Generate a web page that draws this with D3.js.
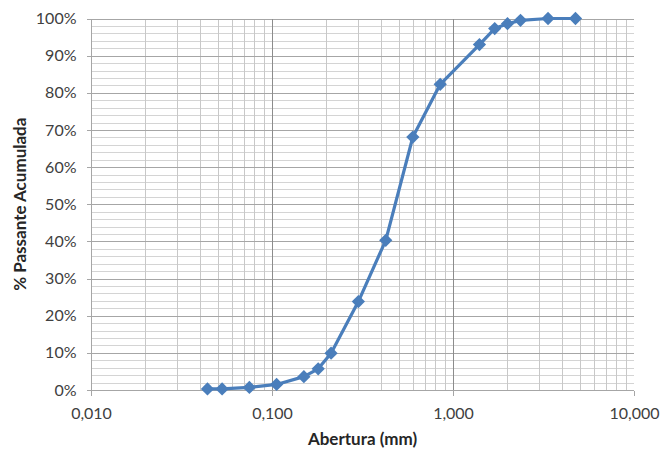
<!DOCTYPE html>
<html>
<head>
<meta charset="utf-8">
<script src="https://cdn.jsdelivr.net/npm/d3@7"></script>
<style>
  body { margin: 0; background: #fff; }
  text { font-family: Lato, "Open Sans", sans-serif; fill: #404040; }
</style>
</head>
<body>
<div id="chart"></div>
<script>
// sieve openings (mm) and cumulative passing (%)
const abertura = [0.044, 0.053, 0.075, 0.106, 0.150, 0.180, 0.212, 0.300, 0.425, 0.600, 0.850, 1.40, 1.70, 2.00, 2.36, 3.35, 4.75];
const passante = [0.3, 0.3, 0.7, 1.5, 3.6, 5.7, 9.9, 23.8, 40.3, 68.1, 82.3, 93.0, 97.3, 98.6, 99.5, 100, 100];

const xTicks = [0.01, 0.1, 1, 10];
const yTicks = [0, 10, 20, 30, 40, 50, 60, 70, 80, 90, 100];

const width = 662, height = 450;
const margin = { left: 91, right: 28, top: 18.5, bottom: 60 };

const svg = d3.select("#chart").append("svg")
    .attr("width", width)
    .attr("height", height);

const x = d3.scaleLog()
    .domain([0.01, 10])
    .range([margin.left, width - margin.right]);

const y = d3.scaleLinear()
    .domain([0, 100])
    .range([height - margin.bottom, margin.top]);

const fmtX = d => d.toFixed(3).replace(".", ",");

// minor grid, every 2% and 2..9 within each decade
const minorY = d3.range(0, 101, 2).filter(v => v % 10 !== 0);
const minorX = [];
[0.01, 0.1, 1].forEach(dec => {
    for (let k = 2; k <= 9; k++) minorX.push(dec * k);
});

const grid = svg.append("g").attr("shape-rendering", "crispEdges");

grid.selectAll(".minor-y")
    .data(minorY)
    .join("line")
    .attr("x1", x(0.01)).attr("x2", x(10))
    .attr("y1", d => Math.round(y(d)) + 0.5).attr("y2", d => Math.round(y(d)) + 0.5)
    .attr("stroke", "#d4d4d4");

grid.selectAll(".minor-x")
    .data(minorX)
    .join("line")
    .attr("y1", y(0)).attr("y2", y(100))
    .attr("x1", d => Math.round(x(d)) + 0.5).attr("x2", d => Math.round(x(d)) + 0.5)
    .attr("stroke", "#c8c8c8");

grid.selectAll(".major-y")
    .data(yTicks.slice(1))
    .join("line")
    .attr("x1", x(0.01)).attr("x2", x(10))
    .attr("y1", d => Math.round(y(d)) + 0.5).attr("y2", d => Math.round(y(d)) + 0.5)
    .attr("stroke", "#a6a6a6");

grid.selectAll(".major-x")
    .data([0.1, 1])
    .join("line")
    .attr("y1", y(0)).attr("y2", y(100))
    .attr("x1", d => Math.round(x(d)) + 0.5).attr("x2", d => Math.round(x(d)) + 0.5)
    .attr("stroke", "#8c8c8c");

// axes
const xAxis = svg.append("g")
    .attr("transform", `translate(0,${Math.round(y(0)) + 0.5})`)
    .call(d3.axisBottom(x).tickValues(xTicks).tickFormat(fmtX).tickSize(5).tickPadding(12));

const yAxis = svg.append("g")
    .attr("transform", `translate(${Math.round(x(0.01)) + 0.5},0)`)
    .call(d3.axisLeft(y).tickValues(yTicks).tickFormat(d => d + "%").tickSize(5).tickPadding(10));

[xAxis, yAxis].forEach(a => {
    a.select(".domain").attr("stroke", "#a6a6a6").attr("shape-rendering", "crispEdges");
    a.selectAll(".tick line").attr("stroke", "#a6a6a6").attr("shape-rendering", "crispEdges");
    a.selectAll(".tick text")
        .attr("font-family", "Lato, 'Open Sans', sans-serif")
        .attr("font-size", 16)
        .attr("fill", "#404040");
});
xAxis.select(".domain").attr("d", `M${x(0.01)},0H${x(10)}`);
yAxis.select(".domain").attr("d", `M0,${y(0)}V${y(100)}`);

// axis titles
svg.append("text")
    .attr("x", (x(0.01) + x(10)) / 2)
    .attr("y", 445)
    .attr("text-anchor", "middle")
    .attr("font-size", 17)
    .attr("font-weight", "bold")
    .style("fill", "#262626")
    .text("Abertura (mm)");

svg.append("text")
    .attr("transform", `translate(26,${(y(0) + y(100)) / 2}) rotate(-90)`)
    .attr("text-anchor", "middle")
    .attr("font-size", 17)
    .attr("font-weight", "bold")
    .style("fill", "#262626")
    .text("% Passante Acumulada");

// curve
const pts = abertura.map((a, i) => ({ a: a, p: passante[i] }));
const blue = "#4a7ebb";

svg.append("path")
    .datum(pts)
    .attr("fill", "none")
    .attr("stroke", blue)
    .attr("stroke-width", 3.2)
    .attr("stroke-linejoin", "round")
    .attr("d", d3.line().x(d => x(d.a)).y(d => y(d.p)));

svg.append("g")
    .selectAll("path")
    .data(pts)
    .join("path")
    .attr("transform", d => `translate(${x(d.a)},${y(d.p)})`)
    .attr("d", d3.symbol(d3.symbolDiamond2, 112))
    .attr("fill", blue);
</script>
</body>
</html>
